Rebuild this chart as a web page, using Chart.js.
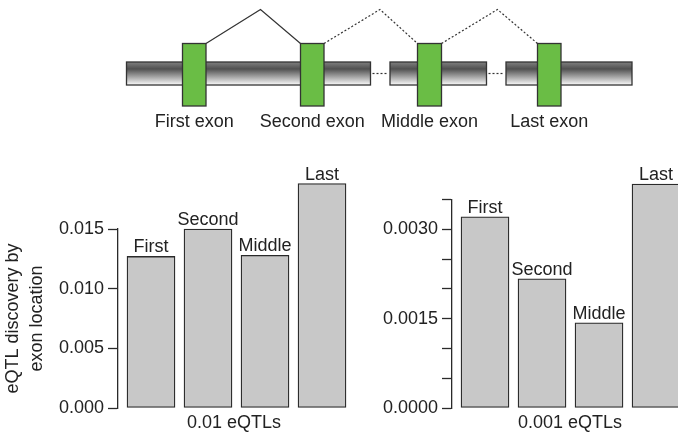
<!DOCTYPE html>
<html>
<head>
<meta charset="utf-8">
<script src="https://cdn.jsdelivr.net/npm/chart.js@4.4.0/dist/chart.umd.min.js"></script>
<style>
  html, body { margin: 0; padding: 0; background: #fff; overflow: hidden; }
  #page { position: relative; width: 678px; height: 434px; overflow: hidden; }
  canvas { position: absolute; }
</style>
</head>
<body>
<div id="page">
  <canvas id="exons" width="678" height="140" style="left:0;top:0"></canvas>
  <canvas id="left" width="360" height="294" style="left:0;top:140px"></canvas>
  <canvas id="right" width="330" height="294" style="left:360px;top:140px"></canvas>
</div>
<script>
const exonNames = ['First exon', 'Second exon', 'Middle exon', 'Last exon'];
const categories = ['First', 'Second', 'Middle', 'Last'];
const discovery01 = [0.0127, 0.0150, 0.0128, 0.0188];
const discovery001 = [0.00321, 0.00217, 0.00143, 0.00376];
const leftTickValues = [0, 0.005, 0.010, 0.015];
const leftTickLabels = ['0.000', '0.005', '0.010', '0.015'];
const rightTickValues = [0, 0.0005, 0.0010, 0.0015, 0.0020, 0.0025, 0.0030, 0.0035];
const rightTickLabels = ['0.0000', '', '', '0.0015', '', '', '0.0030', ''];

const FONT = '"Liberation Sans", Arial, Helvetica, sans-serif';
const INK = '#222';

Chart.defaults.font.family = FONT;
Chart.defaults.font.size = 18;
Chart.defaults.color = INK;

// the gene model above the charts
function drawExonDiagram() {
    const ctx = document.getElementById('exons').getContext('2d');
    const segments = [[126.5, 370.5], [390, 486.5], [506, 632]];
    const exons = [[182.5, 206], [300.5, 324], [417.5, 441.5], [537.5, 561]];
    const peaks = [260.5, 380, 497.5];

    const grad = ctx.createLinearGradient(0, 62, 0, 85);
    grad.addColorStop(0, '#808080');
    grad.addColorStop(0.3, '#505050');
    grad.addColorStop(1, '#fbfbfb');

    ctx.lineWidth = 1.3;
    ctx.strokeStyle = '#333';
    segments.forEach(([x0, x1]) => {
        ctx.fillStyle = grad;
        ctx.fillRect(x0, 62, x1 - x0, 23);
        ctx.strokeRect(x0, 62, x1 - x0, 23);
    });

    // dotted gaps in the gene
    ctx.setLineDash([2, 2]);
    ctx.lineWidth = 1.2;
    for (let i = 0; i < segments.length - 1; i++) {
        ctx.beginPath();
        ctx.moveTo(segments[i][1] + 2, 73.5);
        ctx.lineTo(segments[i + 1][0] - 2, 73.5);
        ctx.stroke();
    }

    // splice arcs, first one solid
    for (let i = 0; i < peaks.length; i++) {
        ctx.setLineDash(i === 0 ? [] : [2, 2]);
        ctx.beginPath();
        ctx.moveTo(exons[i][1], 43.5);
        ctx.lineTo(peaks[i], 9.5);
        ctx.lineTo(exons[i + 1][0], 43.5);
        ctx.stroke();
    }
    ctx.setLineDash([]);

    ctx.lineWidth = 1.3;
    exons.forEach(([x0, x1]) => {
        ctx.fillStyle = '#6abd45';
        ctx.fillRect(x0, 43.5, x1 - x0, 62.5);
        ctx.strokeRect(x0, 43.5, x1 - x0, 62.5);
    });

    ctx.font = '18px ' + FONT;
    ctx.fillStyle = INK;
    ctx.textAlign = 'center';
    ctx.textBaseline = 'alphabetic';
    exons.forEach(([x0, x1], i) => {
        ctx.fillText(exonNames[i], (x0 + x1) / 2, 126.5);
    });
}

const barLabels = {
    id: 'barLabels',
    afterDatasetsDraw(chart) {
        const ctx = chart.ctx;
        const meta = chart.getDatasetMeta(0);
        ctx.save();
        ctx.font = '18px ' + FONT;
        ctx.fillStyle = INK;
        ctx.textAlign = 'center';
        ctx.textBaseline = 'alphabetic';
        meta.data.forEach((bar, i) => ctx.fillText(categories[i], bar.x, bar.y - 4));
        ctx.restore();
    }
};

function makeBarChart(id, values, opts) {
    return new Chart(document.getElementById(id), {
        type: 'bar',
        data: {
            datasets: [{
                data: values.map((v, i) => ({ x: i, y: v })),
                backgroundColor: '#c8c8c8',
                borderColor: '#2a2a2a',
                borderWidth: 1.3,
                borderSkipped: false,
                barThickness: 48,
                clip: false
            }]
        },
        options: {
            responsive: false,
            animation: false,
            layout: { padding: opts.padding },
            plugins: {
                legend: { display: false },
                tooltip: { enabled: false }
            },
            scales: {
                x: {
                    type: 'linear',
                    offset: false,
                    bounds: 'data',
                    min: -0.579,
                    max: opts.xMax,
                    ticks: { display: false },
                    grid: { display: false, offset: false },
                    border: { display: false },
                    title: {
                        display: true,
                        text: opts.xTitle,
                        padding: 0,
                        font: { size: 18, lineHeight: 1.2 }
                    },
                    afterFit: s => { s.height = 26; }
                },
                y: {
                    min: 0,
                    max: opts.tickValues[opts.tickValues.length - 1],
                    afterBuildTicks: s => { s.ticks = opts.tickValues.map(v => ({ value: v })); },
                    ticks: {
                        autoSkip: false,
                        padding: 4,
                        color: INK,
                        callback: (v, i) => opts.tickLabels[i]
                    },
                    grid: {
                        drawOnChartArea: false,
                        drawTicks: true,
                        tickLength: 10,
                        tickColor: '#2a2a2a',
                        tickWidth: 1.3
                    },
                    border: { display: true, color: '#2a2a2a', width: 1.3 },
                    title: {
                        display: !!opts.yTitle,
                        text: opts.yTitle,
                        padding: { top: 1, bottom: 0 },
                        font: { size: 18, lineHeight: '24px' }
                    },
                    afterFit: s => { s.width = opts.yWidth; }
                }
            }
        },
        plugins: [barLabels]
    });
}

drawExonDiagram();

makeBarChart('left', discovery01, {
    padding: { top: 89, right: 10, left: 0, bottom: 0 },
    xMax: 3.491,
    xTitle: '0.01 eQTLs',
    yTitle: ['eQTL discovery by', 'exon location'],
    yWidth: 118,
    tickValues: leftTickValues,
    tickLabels: leftTickLabels
});

makeBarChart('right', discovery001, {
    padding: { top: 59.5, right: 2, left: 0, bottom: 0 },
    xMax: 3.561,
    xTitle: '0.001 eQTLs',
    yTitle: null,
    yWidth: 92,
    tickValues: rightTickValues,
    tickLabels: rightTickLabels
});
</script>
</body>
</html>
